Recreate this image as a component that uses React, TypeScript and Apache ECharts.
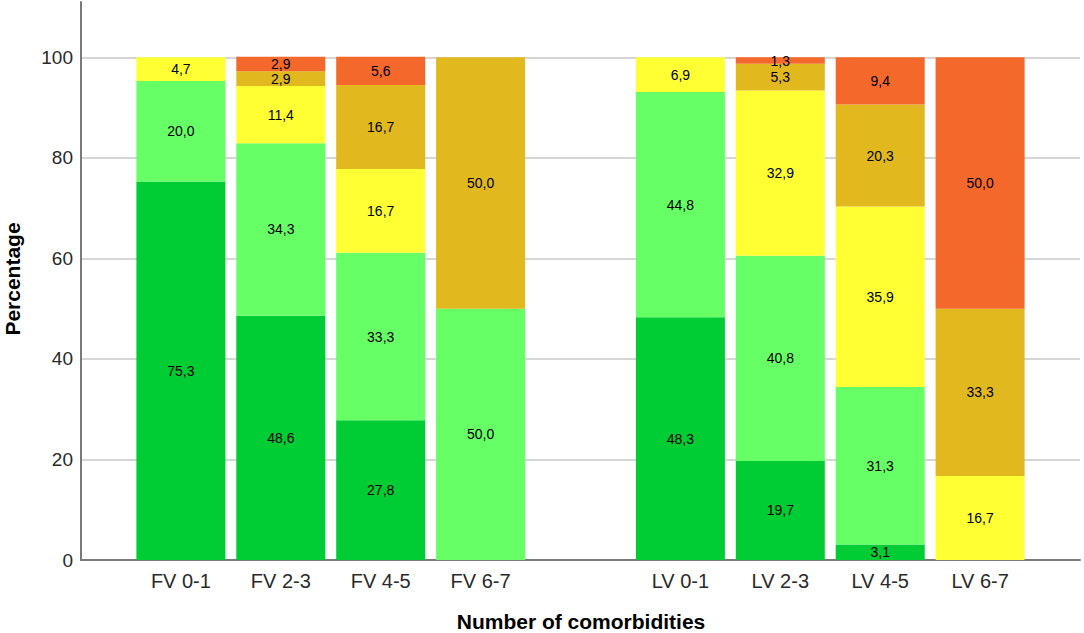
import React, { useEffect, useRef } from "react";
import * as echarts from "echarts";

const categories = ["", "FV 0-1", "FV 2-3", "FV 4-5", "FV 6-7", "", "LV 0-1", "LV 2-3", "LV 4-5", "LV 6-7", ""];
// values per real category (null for spacer slots)
const darkGreen = [null, 75.3, 48.6, 27.8, 0, null, 48.3, 19.7, 3.1, 0, null];
const lightGreen = [null, 20.0, 34.3, 33.3, 50.0, null, 44.8, 40.8, 31.3, 0, null];
const yellow = [null, 4.7, 11.4, 16.7, 0, null, 6.9, 32.9, 35.9, 16.7, null];
const gold = [null, 0, 2.9, 16.7, 50.0, null, 0, 5.3, 20.3, 33.3, null];
const orange = [null, 0, 2.9, 5.6, 0, null, 0, 1.3, 9.4, 50.0, null];

const seriesDefs = [
  { name: "0", data: darkGreen, color: "#00CC33" },
  { name: "1", data: lightGreen, color: "#66FF66" },
  { name: "2", data: yellow, color: "#FFFF33" },
  { name: "3", data: gold, color: "#E1B91E" },
  { name: "4", data: orange, color: "#F4692B" },
];

const FONT = "Arial, 'Liberation Sans', sans-serif";

export default function App() {
  const ref = useRef<HTMLDivElement>(null);
  useEffect(() => {
    if (!ref.current) return;
    const chart = echarts.init(ref.current, undefined, { renderer: "svg" });
    chart.setOption({
      animation: false,
      backgroundColor: "#ffffff",
      grid: { left: 81, right: 4, top: 2, bottom: 73, containLabel: false },
      xAxis: {
        type: "category",
        data: categories,
        boundaryGap: false,
        axisLine: { show: true, lineStyle: { color: "#7a7a7a", width: 2 } },
        axisTick: { show: false },
        splitLine: { show: false },
        axisLabel: {
          color: "#2a2a2a",
          fontSize: 20,
          fontFamily: FONT,
          margin: 11,
          interval: 0,
        },
      },
      yAxis: {
        type: "value",
        min: 0,
        max: 111,
        interval: 20,
        axisLine: { show: true, lineStyle: { color: "#7a7a7a", width: 2 } },
        axisTick: { show: false },
        splitLine: {
          show: true,
          showMinLine: false,
          showMaxLine: false,
          lineStyle: { color: "#c8c8c8", width: 1.5 },
        },
        axisLabel: {
          color: "#2a2a2a",
          fontSize: 19,
          fontFamily: FONT,
          margin: 8,
          showMaxLabel: false,
        },
      },
      series: seriesDefs.map((s) => ({
        type: "bar",
        name: s.name,
        stack: "total",
        barWidth: 89,
        data: s.data,
        itemStyle: { color: s.color },
        label: {
          show: true,
          position: "inside",
          color: "#000",
          fontSize: 14,
          fontFamily: FONT,
          formatter: (p: any) =>
            p.value ? Number(p.value).toFixed(1).replace(".", ",") : "",
        },
      })),
      graphic: [
        {
          type: "text",
          x: 12,
          y: 279,
          rotation: Math.PI / 2,
          style: {
            text: "Percentage",
            fill: "#000",
            font: `bold 21px ${FONT}`,
            textAlign: "center",
            textVerticalAlign: "middle",
          },
        },
        {
          type: "text",
          x: 581,
          y: 621,
          style: {
            text: "Number of comorbidities",
            fill: "#000",
            font: `bold 21px ${FONT}`,
            textAlign: "center",
            textVerticalAlign: "middle",
          },
        },
      ],
    });
    return () => chart.dispose();
  }, []);
  return (
    <div
      ref={ref}
      style={{ position: "absolute", left: 0, top: 0, width: 1084, height: 633 }}
    />
  );
}
